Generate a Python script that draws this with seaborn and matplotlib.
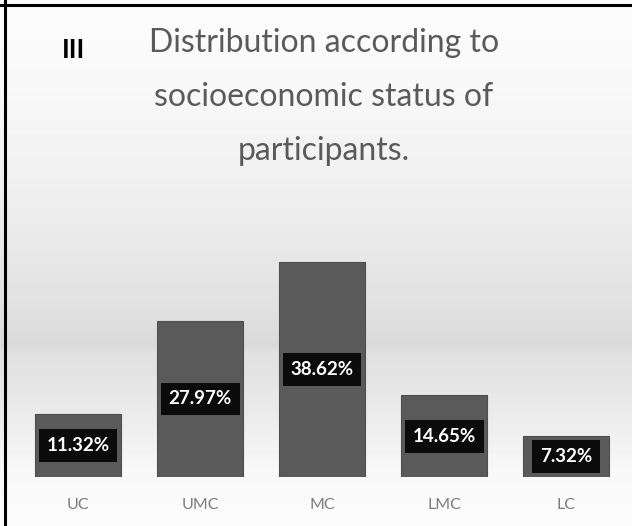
import numpy as np
import pandas as pd
import matplotlib
matplotlib.use("Agg")
import matplotlib.pyplot as plt
from matplotlib.lines import Line2D
import seaborn as sns

categories = ["UC", "UMC", "MC", "LMC", "LC"]
percentages = [11.32, 27.97, 38.62, 14.65, 7.32]
value_labels = ["11.32%", "27.97%", "38.62%", "14.65%", "7.32%"]
title_lines = ["Distribution according to", "socioeconomic status of", "participants."]
panel_tag = "III"

sns.set_theme(style="white")
plt.rcParams["font.family"] = ["Lato", "DejaVu Sans"]

W, H = 632, 526
fig = plt.figure(figsize=(W / 100, H / 100), dpi=100)

# vertical background gradient: light at top, grey band lower down, white at bottom
bg = fig.add_axes([0, 0, 1, 1], zorder=0)
rows = np.arange(H)
stops_y = [0, 90, 200, 300, 345, 352, 420, 470, 526]
stops_v = [252, 248, 238, 226, 218, 224, 236, 248, 252]
shade = np.interp(rows, stops_y, stops_v) / 255.0
img = np.repeat(shade[:, None], 2, axis=1)
bg.imshow(img, cmap="gray", vmin=0, vmax=1, aspect="auto", extent=[0, 1, 0, 1], origin="upper")
bg.set_axis_off()

ax = fig.add_axes([17 / W, 49 / H, 610 / W, 251 / H], zorder=1)
ax.patch.set_alpha(0)
df = pd.DataFrame({"status": categories, "pct": percentages})
sns.barplot(data=df, x="status", y="pct", color="#5a5a5a", saturation=1,
            width=0.70, ax=ax, edgecolor="#4e4e4e", linewidth=0.8)
ax.set_xlim(-0.5, 4.5)
ax.set_ylim(0, 45)
ax.set_xlabel("")
ax.set_ylabel("")
ax.set_yticks([])
sns.despine(ax=ax, left=True, bottom=True)
ax.tick_params(axis="x", length=0, pad=15)
for lab in ax.get_xticklabels():
    lab.set_fontsize(11.5)
    lab.set_color("#7c7c7c")

for i, (v, s) in enumerate(zip(percentages, value_labels)):
    ax.text(i, v / 2, s, ha="center", va="center", color="white",
            fontsize=13.5, fontweight="bold",
            bbox=dict(boxstyle="square,pad=0.42", fc="#0b0b0b", ec="none"))

# title block
for k, line in enumerate(title_lines):
    fig.text(324 / W, 1 - (43 + 54 * k) / H, line, ha="center", va="center",
             fontsize=23, color="#5a5a5a")
fig.text(73 / W, 1 - 50 / H, panel_tag, ha="center", va="center",
         fontsize=19, fontweight="bold", color="black")

# frame lines on the left and top edges
fig.add_artist(Line2D([5 / W, 5 / W], [0, 1], color="black", lw=2.2, transform=fig.transFigure))
fig.add_artist(Line2D([0, 1], [1 - 5 / H, 1 - 5 / H], color="black", lw=2.2, transform=fig.transFigure))

fig.savefig("out.png", dpi=100)
